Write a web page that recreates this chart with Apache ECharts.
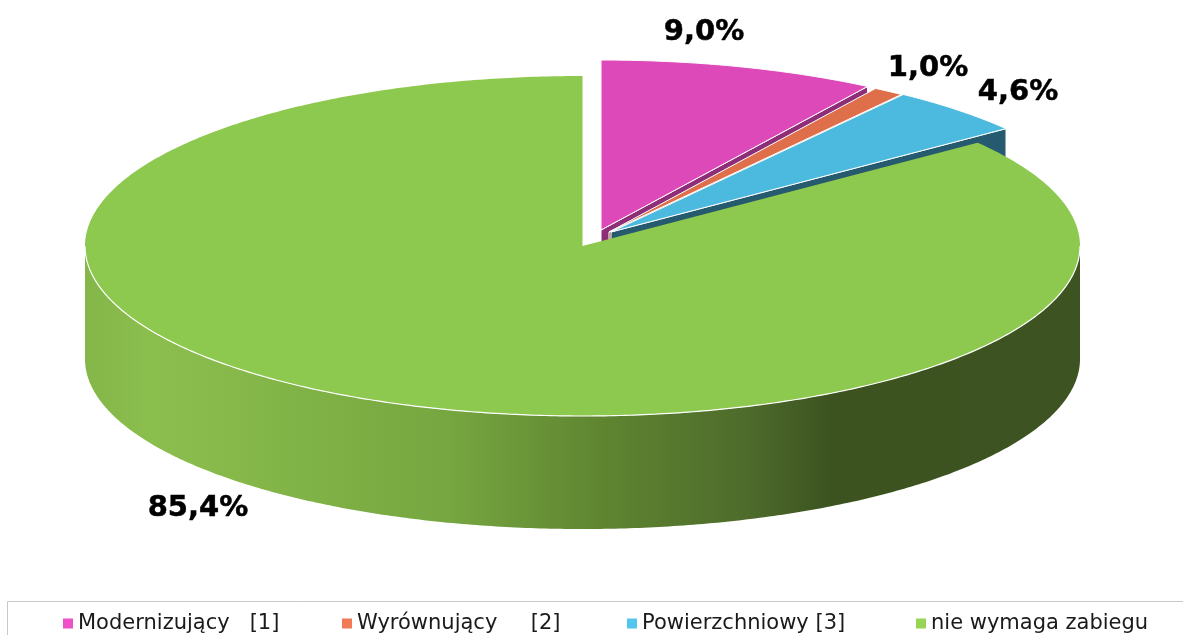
<!DOCTYPE html>
<html>
<head>
<meta charset="utf-8">
<style>html,body{margin:0;padding:0;background:#fff;overflow:hidden}#c{width:1183px;height:635px}</style>
<script src="https://cdn.jsdelivr.net/npm/echarts@6/dist/echarts.min.js"></script>
</head>
<body>
<div id="c"></div>
<script>
// --- data ---
const categories = ['Modernizujący   [1]', 'Wyrównujący     [2]', 'Powierzchniowy [3]', 'nie wymaga zabiegu'];
const shares = [9.0, 1.0, 4.6, 85.4];

// --- styles and layout ---
const topColors = ['#DD49B9', '#DF6F4B', '#4CBADE', '#8EC94F'];
const cutColors = ['#8E2E78', '#8F4730', '#265A6E', '#3D5321'];
const legendColors = ['#EE50C8', '#EF7A55', '#52C6EE', '#98D555'];
const legendLefts = [63, 342, 627, 916];
const disc = { cx: 582.5, cy: 246, rx: 497.5, ry: 170, depth: 113 };
const explode = [[18.5, -16], [26.5, -14], [28.5, -14], [0, 0]];
const labelCenters = [[704, 32], [928, 68], [1018, 92], [198, 508]];
const wallStops = [
  [0, '#84B649'], [0.065, '#8ABE4D'], [0.13, '#88BA4B'], [0.216, '#80B347'], [0.367, '#76A640'],
  [0.518, '#5F8531'], [0.668, '#4D6B2B'], [0.749, '#3C5320'], [1, '#3D5321']
];

const total = shares.reduce((a, b) => a + b, 0);
const startAngles = shares.map((_, i) => shares.slice(0, i).reduce((a, b) => a + b, 0) / total * 2 * Math.PI);

function rimPoint(cx, cy, t, dy) {
  return [cx + disc.rx * Math.sin(t), cy - disc.ry * Math.cos(t) + (dy || 0)];
}
function arc(cx, cy, a, b, dy) {
  const n = Math.max(2, Math.ceil((b - a) / 0.01));
  const pts = [];
  for (let k = 0; k <= n; k++) pts.push(rimPoint(cx, cy, a + (b - a) * k / n, dy));
  return pts;
}

function renderSlice(i) {
  return function () {
    const a = startAngles[i];
    const b = a + shares[i] / total * 2 * Math.PI;
    const cx = disc.cx + explode[i][0];
    const cy = disc.cy + explode[i][1];
    const d = disc.depth;
    const children = [];

    if (i < 3) {
      // cut face at the clockwise end of the slice
      const e = rimPoint(cx, cy, b);
      children.push({
        type: 'polygon',
        shape: { points: [[cx, cy], e, [e[0], e[1] + d], [cx, cy + d]] },
        style: { fill: cutColors[i], stroke: '#fff', lineWidth: 1 }
      });
    } else {
      // front wall
      const w0 = Math.max(a, Math.PI / 2), w1 = Math.min(b, 3 * Math.PI / 2);
      const top = arc(cx, cy, w0, w1, 0);
      const bottom = arc(cx, cy, w0, w1, d).reverse();
      children.push({
        type: 'polygon',
        shape: { points: top.concat(bottom) },
        style: {
          fill: new echarts.graphic.LinearGradient(0, 0, 1, 0,
            wallStops.map(s => ({ offset: s[0], color: s[1] })))
        }
      });
    }
    children.push({
      type: 'polygon',
      shape: { points: [[cx, cy]].concat(arc(cx, cy, a, b, 0)) },
      style: i < 3 ? { fill: topColors[i], stroke: '#fff', lineWidth: 1 } : { fill: topColors[i] }
    });
    if (i === 3) {
      children.push({
        type: 'polyline',
        shape: { points: arc(cx, cy, Math.PI / 2, 3 * Math.PI / 2, 0) },
        style: { fill: null, stroke: '#fff', lineWidth: 1.2 }
      });
    }
    children.push({
      type: 'text',
      z2: 100,
      style: {
        text: shares[i].toFixed(1).replace('.', ',') + '%',
        x: labelCenters[i][0], y: labelCenters[i][1],
        align: 'center', verticalAlign: 'middle',
        font: 'bold 29px "DejaVu Sans"', fill: '#000', stroke: '#000', lineWidth: 0.5
      }
    });
    return { type: 'group', children };
  };
}

const chart = echarts.init(document.getElementById('c'), null, { renderer: 'canvas' });
chart.setOption({
  animation: false,
  backgroundColor: '#fff',
  legend: categories.map((name, i) => ({
    left: legendLefts[i], top: 613, padding: 0,
    itemWidth: 10, itemHeight: 10, icon: 'rect',
    textStyle: { fontFamily: 'DejaVu Sans', fontSize: 21, color: '#1a1a1a' },
    selectedMode: false,
    data: [{ name, itemStyle: { color: legendColors[i] } }]
  })),
  graphic: [{
    type: 'rect', silent: true, z: -1,
    shape: { x: 7.5, y: 601.5, width: 1190, height: 60 },
    style: { fill: 'none', stroke: '#C8C8C8', lineWidth: 1 }
  }],
  series: categories.map((name, i) => ({
    type: 'custom',
    name,
    coordinateSystem: 'none',
    silent: true,
    z: 2 + i,
    itemStyle: { color: legendColors[i] },
    renderItem: renderSlice(i),
    data: [[shares[i]]]
  }))
});
</script>
</body>
</html>
